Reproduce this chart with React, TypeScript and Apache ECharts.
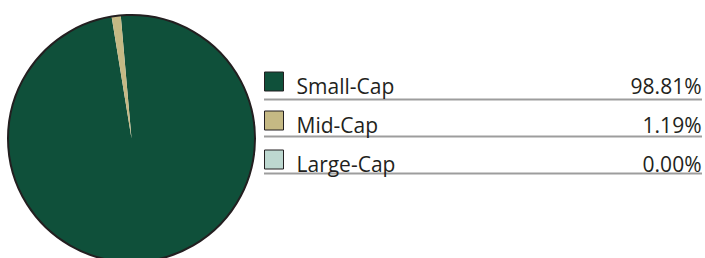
import React, { useEffect, useRef } from "react";
import * as echarts from "echarts";

const categories = ["Small-Cap", "Mid-Cap", "Large-Cap"];
const values = [98.81, 1.19, 0.0];
const colors = ["#0f503a", "#c5b984", "#bdd8d0"];

export default function App() {
  const ref = useRef<HTMLDivElement>(null);
  useEffect(() => {
    if (!ref.current) return;
    const chart = echarts.init(ref.current, undefined, { renderer: "svg" });
    const cx = 131.5;
    const cy = 138.5;
    const r = 123.5;
    const legendLeft = 264;
    const iconTop = 74;
    const pitch = 37;
    const padTop = 8;
    const itemH = 19 + padTop;
    const lineRows = categories.map((_, i) => ({
      type: "line",
      silent: true,
      shape: {
        x1: legendLeft,
        y1: iconTop + 25.5 + i * pitch,
        x2: 702,
        y2: iconTop + 25.5 + i * pitch,
      },
      style: { stroke: "#9d9d9d", lineWidth: 2 },
    }));
    chart.setOption({
      animation: false,
      legend: {
        orient: "vertical",
        left: legendLeft,
        top: iconTop - (itemH - 19) / 2 - 3,
        padding: 0,
        itemWidth: 19,
        itemHeight: 19,
        itemGap: pitch - itemH,
        icon: "rect",
        selectedMode: false,
        itemStyle: { borderColor: "#231f20", borderWidth: 1 },
        data: categories,
        formatter: (name: string) => {
          const i = categories.indexOf(name);
          return `{n|${name}}{v|${values[i].toFixed(2)}%}`;
        },
        textStyle: {
          rich: {
            n: {
              fontFamily: "Open Sans",
              fontSize: 21,
              color: "#231f20",
              width: 330,
              padding: [padTop, 0, 0, 8],
              lineHeight: 19,
            },
            v: {
              fontFamily: "Open Sans",
              fontSize: 21,
              color: "#231f20",
              width: 75,
              align: "right",
              padding: [padTop, 0, 0, 0],
              lineHeight: 19,
            },
          },
        },
      },
      graphic: [
        ...lineRows,
        {
          type: "circle",
          silent: true,
          z: 10,
          shape: { cx, cy, r },
          style: { fill: "none", stroke: "#231f20", lineWidth: 2 },
        },
      ],
      series: [
        {
          type: "pie",
          center: [cx, cy],
          radius: r,
          startAngle: 95,
          clockwise: true,
          silent: true,
          label: { show: false },
          labelLine: { show: false },
          emphasis: { disabled: true },
          itemStyle: { borderWidth: 0 },
          data: categories.map((c, i) => ({
            name: c,
            value: values[i],
            itemStyle: { color: colors[i] },
          })),
        },
      ],
    });
    return () => chart.dispose();
  }, []);
  return (
    <div
      ref={ref}
      style={{ position: "fixed", left: 0, top: 0, width: 705, height: 258, background: "#fff" }}
    />
  );
}
